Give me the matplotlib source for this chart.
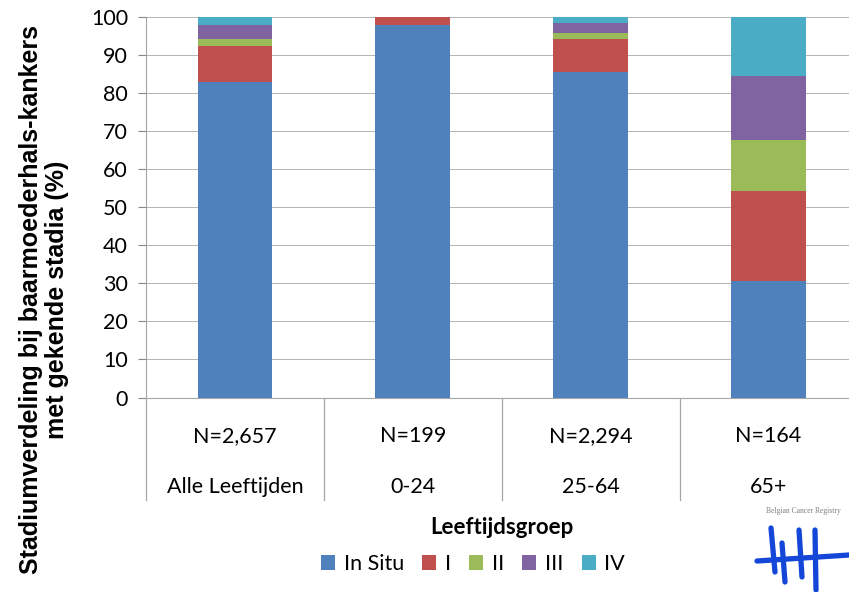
import matplotlib
matplotlib.use("Agg")
import matplotlib.pyplot as plt
from matplotlib.patches import Patch
import numpy as np

# Age groups, case counts and stage distribution (%)
groups = ["Alle Leeftijden", "0-24", "25-64", "65+"]
counts = ["N=2,657", "N=199", "N=2,294", "N=164"]
stages = ["In Situ", "I", "II", "III", "IV"]
in_situ = [83.0, 97.9, 85.6, 30.6]
stage_i = [9.4, 2.1, 8.6, 23.7]
stage_ii = [1.8, 0.0, 1.6, 13.5]
stage_iii = [3.7, 0.0, 2.7, 16.8]
stage_iv = [2.1, 0.0, 1.5, 15.4]
colors = ["#4F81BD", "#C0504D", "#9BBB59", "#8064A2", "#4BACC6"]

plt.rcParams["font.family"] = ["Lato", "DejaVu Sans"]

W, H = 849, 592
fig = plt.figure(figsize=(W / 100, H / 100), dpi=100)
left, right, top, bottom = 146, 857.5, 17, 397.5
ax = fig.add_axes([left / W, 1 - bottom / H, (right - left) / W, (bottom - top) / H])

x = np.arange(len(groups))
base = np.zeros(len(groups))
for vals, c in zip([in_situ, stage_i, stage_ii, stage_iii, stage_iv], colors):
    ax.bar(x, vals, width=0.42, bottom=base, color=c, zorder=3)
    base += np.array(vals)

ax.set_xlim(-0.5, 3.5)
ax.set_ylim(0, 100)
ax.set_yticks(np.arange(0, 101, 10))
ax.tick_params(axis="y", length=6, width=0.8, color="#868686", pad=7, labelsize=15.5)
ax.set_xticks([])
ax.yaxis.grid(True, color="#B4B4B4", linewidth=0.7, zorder=0)
for s in ["top", "right"]:
    ax.spines[s].set_visible(False)
ax.spines["left"].set_color("#A6A6A6")
ax.spines["bottom"].set_color("#A6A6A6")

# Category table below the axis
depth = (500 - bottom) / (bottom - top)
xt = ax.get_xaxis_transform()
for xs in [-0.5, 0.5, 1.5, 2.5, 3.5]:
    ax.plot([xs, xs], [0, -depth], transform=xt, color="#A6A6A6", lw=0.9, clip_on=False)
row1 = -(436 - bottom) / (bottom - top)
row2 = -(487 - bottom) / (bottom - top)
for xi, n, g in zip(x, counts, groups):
    ax.text(xi, row1, n, transform=xt, ha="center", va="center", fontsize=15.5)
    ax.text(xi, row2, g, transform=xt, ha="center", va="center", fontsize=15.5)

fig.text(44 / W, 1 - 300 / H,
         "Stadiumverdeling bij baarmoederhals-kankers\nmet gekende stadia (%)",
         rotation=90, ha="center", va="center", fontsize=18, fontweight="bold",
         family="Liberation Sans", linespacing=1.12)

fig.text(502 / W, 1 - 527 / H, "Leeftijdsgroep", ha="center", va="center",
         fontsize=16, fontweight="bold")

handles = [Patch(facecolor=c, edgecolor="none") for c in colors]
fig.legend(handles, stages, loc="center", bbox_to_anchor=(473 / W, 1 - 564 / H),
           ncol=5, frameon=False, fontsize=15.5, handlelength=0.65, handleheight=0.65,
           handletextpad=0.4, columnspacing=0.85)

# Belgian Cancer Registry mark
fig.text(803 / W, 1 - 511 / H, "Belgian Cancer Registry", ha="center", va="center",
         fontsize=5.5, color="#808080", family="Liberation Serif")
blue = "#1446D8"
strokes = [((771, 528), (775, 572)), ((782, 543), (785, 582)),
           ((799, 530), (802, 577)), ((815, 530), (816, 590))]
for (x0, y0), (x1, y1) in strokes:
    fig.add_artist(plt.Line2D([x0 / W, x1 / W], [1 - y0 / H, 1 - y1 / H],
                              color=blue, lw=3.8, solid_capstyle="round"))
fig.add_artist(plt.Line2D([757 / W, 849 / W], [1 - 561 / H, 1 - 555 / H],
                          color=blue, lw=3.8, solid_capstyle="round"))

fig.savefig("out.png", dpi=100, facecolor="white")
